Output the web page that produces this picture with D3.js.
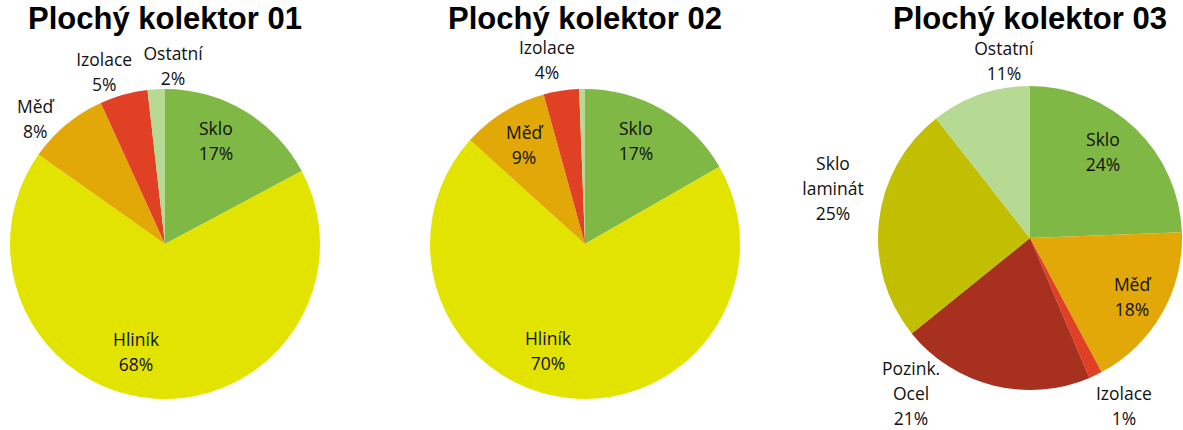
<!DOCTYPE html>
<html><head><meta charset="utf-8">
<script src="https://cdn.jsdelivr.net/npm/d3@7"></script>
<style>body{margin:0;background:#fff}svg{display:block}</style>
</head><body>
<svg id="chart" width="1183" height="430"></svg>
<script>
// ---- data ----
const titles = ["Plochý kolektor 01", "Plochý kolektor 02", "Plochý kolektor 03"];
const categories1 = ["Sklo", "Hliník", "Měď", "Izolace", "Ostatní"];
const values1 = [17.2, 67.6, 8.4, 5.0, 1.8];
const categories2 = ["Sklo", "Hliník", "Měď", "Izolace", "Ostatní"];
const values2 = [16.7, 70.0, 9.0, 3.7, 0.6];
const categories3 = ["Sklo", "Měď", "Izolace", "Pozink. Ocel", "Sklo laminát", "Ostatní"];
const values3 = [24.4, 17.8, 1.4, 20.6, 25.2, 10.6];

// ---- styles / layout ----
const colors = {
  "Sklo": "#80b846", "Hliník": "#e3e300", "Měď": "#e2a808", "Izolace": "#e04024",
  "Ostatní": "#b6d994", "Pozink. Ocel": "#a8301f", "Sklo laminát": "#c2bf02"
};
const pies = [
  {cx: 165, cy: 244, r: 155, titleY: 28.5, cats: categories1, vals: values1,
   labels: [[26.3, 0.741], [195.0, 0.721], [313.9, 1.163], [340.5, 1.177], [2.6, 1.15]]},
  {cx: 585, cy: 244, r: 155, titleY: 28.5, cats: categories2, vals: values2,
   labels: [[26.3, 0.741], [199.1, 0.730], [328.4, 0.750], [348.3, 1.212], null]},
  {cx: 1030, cy: 238, r: 152, titleY: 28.5, cats: categories3, vals: values3,
   labels: [[40.3, 0.742], [120.0, 0.775], [150.8, 1.266], [217.4, 1.288], [284.0, 1.336], [351.6, 1.177]]}
];
const labelFont = "'Open Sans', Lato, sans-serif";
const titleFont = "'Liberation Sans', Arial, sans-serif";
const lineH = 25, capHalf = 6.3;

const svg = d3.select("#chart");
const pieGen = d3.pie().sort(null).value(d => d.v);

pies.forEach((p, pi) => {
  const data = p.cats.map((c, i) => ({c, v: p.vals[i]}));
  const arcs = pieGen(data);
  const arc = d3.arc().innerRadius(0).outerRadius(p.r);
  const g = svg.append("g").attr("transform", `translate(${p.cx},${p.cy})`);
  g.selectAll("path").data(arcs).join("path")
    .attr("d", arc).attr("fill", d => colors[d.data.c]);

  svg.append("text").attr("x", p.cx).attr("y", p.titleY)
    .attr("text-anchor", "middle").attr("font-family", titleFont)
    .attr("font-weight", "bold").attr("font-size", 31).attr("fill", "#000")
    .text(titles[pi]);

  arcs.forEach((d, i) => {
    const lp = p.labels[i];
    if (!lp) return;
    const a = lp[0] * Math.PI / 180, f = lp[1];
    const x = Math.sin(a) * f * p.r, y = -Math.cos(a) * f * p.r;
    const lines = d.data.c.split(" ").concat([Math.round(d.data.v) + "%"]);
    const n = lines.length;
    const t = g.append("text").attr("text-anchor", "middle")
      .attr("font-family", labelFont).attr("font-size", 17.5).attr("fill", "#111");
    lines.forEach((ln, k) => {
      t.append("tspan").attr("x", x)
        .attr("y", y + (k - (n - 1) / 2) * lineH + capHalf).text(ln);
    });
  });
});
</script>
</body></html>
